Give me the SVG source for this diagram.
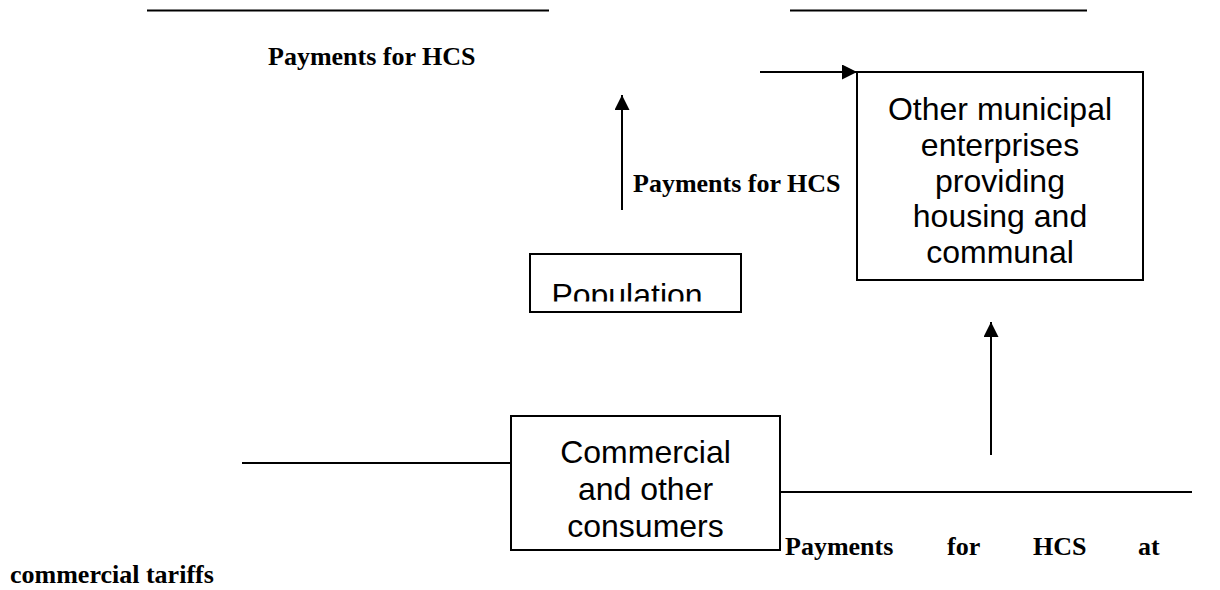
<svg xmlns="http://www.w3.org/2000/svg" width="1220" height="590" viewBox="0 0 1220 590">
<style>
.box{fill:#fff;stroke:#000;stroke-width:2}
.ln{fill:none;stroke:#000;stroke-width:2}
.nt{font-family:"Liberation Sans",Arial,sans-serif;font-size:32px;fill:#000;text-anchor:middle}
.lb{font-family:"Liberation Serif","Times New Roman",serif;font-size:26px;font-weight:bold;fill:#000}
</style>
<defs>
<marker id="ah" viewBox="0 0 10 10" refX="10" refY="5" markerWidth="15" markerHeight="15" markerUnits="userSpaceOnUse" orient="auto">
<path d="M0,0 L10,5 L0,10 Z" fill="#000"/>
</marker>
<clipPath id="popclip"><rect x="530" y="254" width="211" height="47.5"/></clipPath>
</defs>
<rect width="1220" height="590" fill="#fff"/>
<g id="connectors">
<line class="ln" x1="147" y1="10.5" x2="549" y2="10.5"/>
<line class="ln" x1="790" y1="10.5" x2="1087" y2="10.5"/>
<line class="ln" x1="760" y1="72" x2="857" y2="72" marker-end="url(#ah)"/>
<line class="ln" x1="622" y1="210" x2="622" y2="95" marker-end="url(#ah)"/>
<line class="ln" x1="991" y1="455" x2="991" y2="322" marker-end="url(#ah)"/>
<line class="ln" x1="242" y1="463" x2="511" y2="463"/>
<line class="ln" x1="780" y1="492" x2="1192" y2="492"/>
</g>
<g id="node-other">
<rect class="box" x="857" y="72" width="286" height="208"/>
<text class="nt" x="1000" y="120">Other municipal</text>
<text class="nt" x="1000" y="156">enterprises</text>
<text class="nt" x="1000" y="192">providing</text>
<text class="nt" x="1000" y="227">housing and</text>
<text class="nt" x="1000" y="263">communal</text>
</g>
<g id="node-population">
<rect class="box" x="530" y="254" width="211" height="58"/>
<text class="nt" x="627" y="306" clip-path="url(#popclip)">Population</text>
</g>
<g id="node-commercial">
<rect class="box" x="511" y="416" width="269" height="134"/>
<text class="nt" x="645.5" y="463">Commercial</text>
<text class="nt" x="645.5" y="500">and other</text>
<text class="nt" x="645.5" y="537">consumers</text>
</g>
<g id="labels">
<text class="lb" x="268" y="65">Payments for HCS</text>
<text class="lb" x="633" y="192">Payments for HCS</text>
<text class="lb" x="785" y="555">Payments</text>
<text class="lb" x="947" y="555">for</text>
<text class="lb" x="1033" y="555">HCS</text>
<text class="lb" x="1138" y="555">at</text>
<text class="lb" x="10" y="583">commercial tariffs</text>
</g>
</svg>
